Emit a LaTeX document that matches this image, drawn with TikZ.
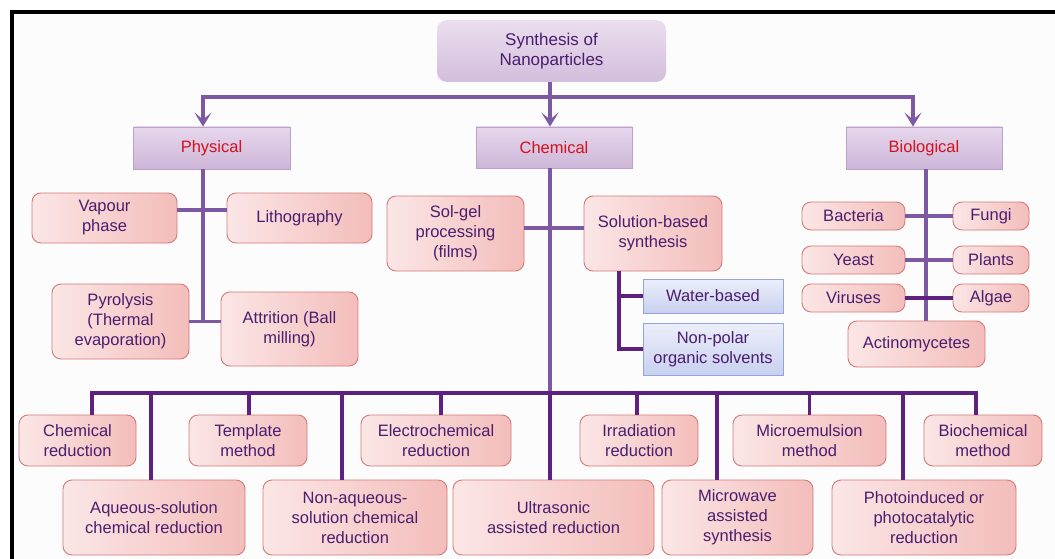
\documentclass[tikz,border=0pt]{standalone}
\usepackage{fontspec}
\setmainfont{Liberation Sans}
\usetikzlibrary{arrows.meta}
\definecolor{bgfill}{HTML}{FCFCFC}
\definecolor{pinkL}{HTML}{FBE6E6}
\definecolor{pinkR}{HTML}{F3BDBA}
\definecolor{pinkline}{HTML}{D47A7A}
\definecolor{catT}{HTML}{E6D7EC}
\definecolor{catB}{HTML}{CDB6D8}
\definecolor{catline}{HTML}{BCA0CD}
\definecolor{titT}{HTML}{EBDFEF}
\definecolor{titB}{HTML}{D3BDDC}
\definecolor{blueT}{HTML}{ECEFFA}
\definecolor{blueB}{HTML}{C8D0EF}
\definecolor{blueline}{HTML}{95A4DC}
\definecolor{txt}{HTML}{4A1D6E}
\definecolor{catred}{HTML}{D4111D}
\definecolor{lnA}{HTML}{7D58A3}
\definecolor{lnB}{HTML}{5E2180}
\tikzset{
  lbl/.style={align=center, inner sep=0pt, text=txt, font=\fontsize{16.5}{20}\selectfont},
  pinkbox/.style={lbl, draw=pinkline, line width=0.9pt, rounded corners=9pt, left color=pinkL, right color=pinkR},
  catbox/.style={lbl, text=catred, draw=catline, line width=0.9pt, top color=catT, bottom color=catB},
  bluebox/.style={lbl, draw=blueline, line width=0.9pt, top color=blueT, bottom color=blueB},
  titlebox/.style={lbl, rounded corners=10pt, top color=titT, bottom color=titB, font=\fontsize{17}{20.5}\selectfont},
  conn/.style={draw=lnA, line width=3.8pt},
  busline/.style={draw=lnB, line width=3.8pt},
  tip/.style={-{Stealth[length=14pt,width=17pt,inset=7pt]}}
}
\begin{document}
\begin{tikzpicture}[x=1pt,y=-1pt]
\useasboundingbox (0,0) rectangle (1055,559);
\fill[white] (0,0) rectangle (1055,559);
\fill[bgfill] (12,12) rectangle (1055,559);
\draw[line width=4.3pt] (12,559) -- (12,12) -- (1055,12);

% top level
\node[titlebox, minimum width=229pt, minimum height=62pt] (title) at (551.5,51) {Synthesis of\\Nanoparticles};
\node[catbox, minimum width=157pt, minimum height=42pt] (phys) at (211.5,148) {Physical};
\node[catbox, minimum width=156pt, minimum height=41pt] (chem) at (554,147.5) {Chemical};
\node[catbox, minimum width=156pt, minimum height=42pt] (bio) at (924,148) {Biological};

% physical
\node[pinkbox, minimum width=145pt, minimum height=50pt] (vap) at (104.5,218) {Vapour\\phase};
\node[pinkbox, minimum width=145pt, minimum height=50pt] (lith) at (299.5,218) {Lithography};
\node[pinkbox, minimum width=137pt, minimum height=75pt] (pyro) at (120.5,321.5) {Pyrolysis\\(Thermal\\evaporation)};
\node[pinkbox, minimum width=137pt, minimum height=74pt] (attr) at (289.5,329) {Attrition (Ball\\milling)};

% chemical
\node[pinkbox, minimum width=137pt, minimum height=75pt] (sol) at (455.5,233.5) {Sol-gel\\processing\\(films)};
\node[pinkbox, minimum width=138pt, minimum height=75pt] (solb) at (653,233.5) {Solution-based\\synthesis};
\node[bluebox, minimum width=140pt, minimum height=34pt] (water) at (713,296) {Water-based};
\node[bluebox, minimum width=140pt, minimum height=52pt] (npol) at (713,349) {Non-polar\\organic solvents};

% biological
\node[pinkbox, minimum width=103pt, minimum height=28pt] (bact) at (853.5,216) {Bacteria};
\node[pinkbox, minimum width=76pt, minimum height=28pt] (fung) at (991,216) {Fungi};
\node[pinkbox, minimum width=103pt, minimum height=28pt] (yeast) at (853.5,260) {Yeast};
\node[pinkbox, minimum width=76pt, minimum height=28pt] (plant) at (991,260) {Plants};
\node[pinkbox, minimum width=103pt, minimum height=28pt] (vir) at (853.5,298) {Viruses};
\node[pinkbox, minimum width=76pt, minimum height=28pt] (alg) at (991,298) {Algae};
\node[pinkbox, minimum width=137pt, minimum height=46pt] (act) at (916.5,344) {Actinomycetes};

% bottom rows
\node[pinkbox, minimum width=117pt, minimum height=51pt] (cr) at (77.5,440.5) {Chemical\\reduction};
\node[pinkbox, minimum width=118pt, minimum height=51pt] (tm) at (248,440.5) {Template\\method};
\node[pinkbox, minimum width=150pt, minimum height=51pt] (ec) at (436,440.5) {Electrochemical\\reduction};
\node[pinkbox, minimum width=118pt, minimum height=51pt] (ir) at (639,440.5) {Irradiation\\reduction};
\node[pinkbox, minimum width=153pt, minimum height=51pt] (me) at (809.5,440.5) {Microemulsion\\method};
\node[pinkbox, minimum width=118pt, minimum height=51pt] (bm) at (983,440.5) {Biochemical\\method};
\node[pinkbox, minimum width=182pt, minimum height=75pt] (aq) at (154,517.5) {Aqueous-solution\\chemical reduction};
\node[pinkbox, minimum width=184pt, minimum height=75pt] (na) at (355,517.5) {Non-aqueous-\\solution chemical\\reduction};
\node[pinkbox, minimum width=201pt, minimum height=75pt] (us) at (553.5,517.5) {Ultrasonic\\assisted reduction};
\node[pinkbox, minimum width=151pt, minimum height=75pt] (mw) at (737.5,517.5) {Microwave\\assisted\\synthesis};
\node[pinkbox, minimum width=184pt, minimum height=75pt] (ph) at (924,517.5) {Photoinduced or\\photocatalytic\\reduction};

% top connectors
\coordinate (hy) at (0,97);
\coordinate (a1) at ([xshift=-8.5pt]phys.north);
\coordinate (a2) at ([xshift=-4pt]chem.north);
\coordinate (a3) at ([xshift=-11pt]bio.north);
\draw[conn, tip] (a2 |- hy) -- (a1 |- hy) -- (a1);
\draw[conn, tip] (a2 |- hy) -- (a3 |- hy) -- (a3);
\draw[conn, tip] (a2 |- title.south) -- (a2);

% physical connectors
\coordinate (p1) at ([xshift=-8.5pt]phys.south);
\draw[conn] (p1) -- (p1 |- pyro.east);
\draw[conn] ([yshift=8pt]vap.east) -- ([yshift=8pt]vap.east -| lith.west);
\draw[conn] (pyro.east) -- (pyro.east -| attr.west);

% chemical connectors
\coordinate (busy) at (0,393);
\coordinate (c1) at ([xshift=-4pt]chem.south);
\draw[conn] (c1) -- (c1 |- busy);
\draw[conn] ([yshift=5.5pt]sol.east) -- ([yshift=5.5pt]sol.east -| solb.west);
\coordinate (s1) at ([xshift=-34pt]solb.south);
\draw[busline] (s1) -- (s1 |- npol.west) -- (npol.west);
\draw[busline] (s1 |- water.west) -- (water.west);

% biological connectors
\coordinate (b1) at ([xshift=2pt]bio.south);
\draw[conn] (b1) -- (b1 |- act.north);
\draw[conn] (bact.east) -- (fung.west);
\draw[conn] (yeast.east) -- (plant.west);
\draw[busline] (vir.east) -- (alg.west);

% bottom bus
\coordinate (d1) at ([xshift=14.5pt]cr.north);
\coordinate (d2) at ([xshift=1pt]tm.north);
\coordinate (d3) at ([xshift=5pt]ec.north);
\coordinate (d4) at ([xshift=-2pt]ir.north);
\coordinate (d5) at (me.north);
\coordinate (d6) at ([xshift=-7pt]bm.north);
\coordinate (e1) at ([xshift=-3pt]aq.north);
\coordinate (e2) at ([xshift=-13pt]na.north);
\coordinate (e3) at ([xshift=-3.5pt]us.north);
\coordinate (e4) at ([xshift=-20.5pt]mw.north);
\coordinate (e5) at ([xshift=-21pt]ph.north);
\draw[busline] (d1) -- (d1 |- busy) -- (d6 |- busy) -- (d6);
\foreach \d in {d2,d3,d4,d5,e1,e2,e3,e4,e5}
  \draw[busline] (\d |- busy) -- (\d);
\end{tikzpicture}
\end{document}
